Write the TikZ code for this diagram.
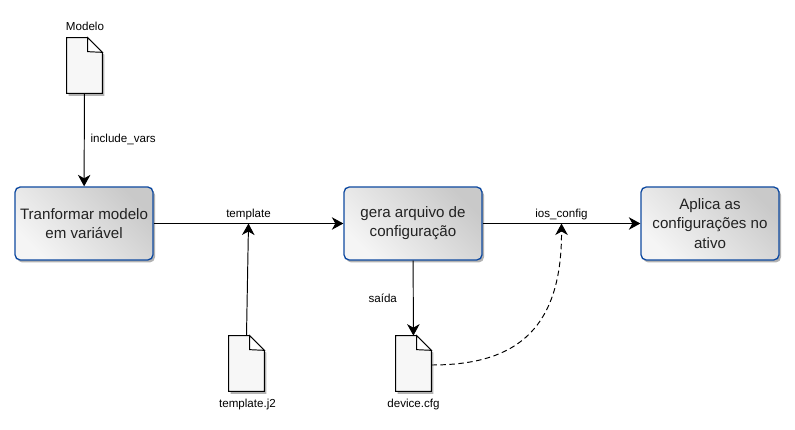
\documentclass[tikz,border=0pt]{standalone}
\usepackage{fontspec}
\setmainfont{Liberation Sans}
\usetikzlibrary{arrows.meta,shadows}
\definecolor{boxblue}{HTML}{0F4AA0}
\definecolor{boxtext}{HTML}{222222}
\tikzset{
  lnk/.style={line width=0.55pt,-{Stealth[length=2.3mm,width=2.5mm,inset=0.7mm]}},
  etapa/.style={draw=boxblue,line width=0.75pt,rounded corners=3pt,minimum width=2.76cm,minimum height=1.46cm,
    align=center,inner sep=0pt,font=\fontsize{8.6}{10.9}\selectfont,text=boxtext,
    left color=white!96!black,right color=black!21,shading angle=135,
    drop shadow={shadow xshift=0.04cm,shadow yshift=-0.05cm,opacity=0.3,fill=black}},
  arq/.style={minimum width=0.7cm,minimum height=1.1cm,inner sep=0pt},
  arqcorpo/.style={draw=black,line width=0.55pt,fill=black!3,
    drop shadow={shadow xshift=0.04cm,shadow yshift=-0.05cm,opacity=0.3,fill=black}},
  arqdobra/.style={draw=black,line width=0.55pt,fill=white},
}
\begin{document}
\begin{tikzpicture}[every node/.style={font=\fontsize{6.6}{8}\selectfont}]
\useasboundingbox (0,0) rectangle (15.9,8.6);
\node[etapa] (A) at (1.68,4.13) {Tranformar modelo\\em variável};
\node[etapa] (G) at (8.26,4.13) {gera arquivo de\\configuração};
\node[etapa] (C) at (14.2,4.13) {Aplica as\\configurações no\\ativo};
\node[arq] (M) at (1.69,7.29) {};
\node[arq] (T) at (4.93,1.33) {};
\node[arq] (D) at (8.27,1.33) {};
% folha com canto dobrado
\foreach \n in {M,T,D} {
  \draw[arqcorpo] (\n.north west) -- ([xshift=0.42cm]\n.north west) -- ([yshift=0.82cm]\n.south east)
    -- (\n.south east) -- (\n.south west) -- cycle;
  \draw[arqdobra] ([xshift=0.42cm]\n.north west) -- ([yshift=0.82cm]\n.south east)
    -- ([xshift=0.42cm,yshift=-0.28cm]\n.north west) -- cycle;
}
\node (Ml) at (1.70,8.08) {Modelo};
\node (Tl) at (4.95,0.5) {template.j2};
\node (Dl) at (8.27,0.5) {device.cfg};
\draw[lnk] (M) -- (A) node[midway,right] {include\_vars};
\draw[lnk] (A) -- (G) node[midway,above,inner sep=2pt] {template} coordinate[midway] (J1);
\draw[lnk] (G) -- (C) node[midway,above,inner sep=2pt] {ios\_config} coordinate[midway] (J2);
\draw[lnk] (G) -- (D) node[midway,left,xshift=-0.2cm] {saída};
\draw[lnk] (T.north) -- (J1);
\draw[lnk,dash pattern=on 0.11cm off 0.07cm] ([yshift=-0.03cm]D.east) .. controls (10.2,1.3) and (11.24,1.9) .. (J2);
\end{tikzpicture}
\end{document}
